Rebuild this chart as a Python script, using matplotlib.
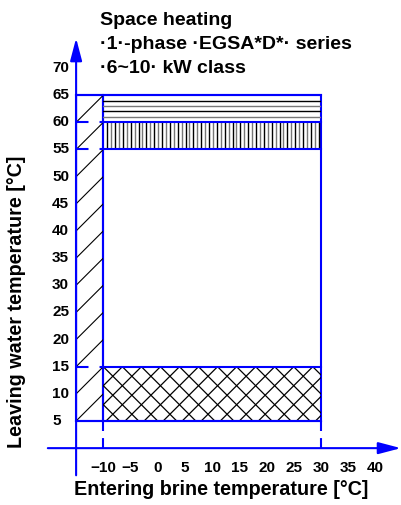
import numpy as np
import matplotlib
matplotlib.use('Agg')
import matplotlib.pyplot as plt
from matplotlib.patches import Rectangle

# operating range (entering brine / leaving water), degC
brine_min, brine_max = -10, 30
water_min, water_max = 5, 65
backup_min = -15            # left strip, backup heater only
zone_top = (60, 65)         # horizontal hatch
zone_mid = (55, 60)         # vertical hatch
zone_low = (5, 15)          # cross hatch

x_ticks = [-10, -5, 0, 5, 10, 15, 20, 25, 30, 35, 40]
y_ticks = [5, 10, 15, 20, 25, 30, 35, 40, 45, 50, 55, 60, 65, 70]

title_lines = ['Space heating', '\u00b71\u00b7-phase \u00b7EGSA*D*\u00b7 series', '\u00b76~10\u00b7 kW class']
xlabel = 'Entering brine temperature [\u00b0C]'
ylabel = 'Leaving water temperature [\u00b0C]'

W, H = 401, 505
fig = plt.figure(figsize=(W / 100, H / 100), dpi=100)
ax = fig.add_axes([0, 0, 1, 1])
ax.set_xlim(-28.99, 44.72)
ax.set_ylim(-10.47, 82.53)
ax.axis('off')

blue = '#0000ff'
lw = 1.5
font = ['Liberation Sans', 'DejaVu Sans']


def clipped(xs, ys, clip, **kw):
    ln, = ax.plot(xs, ys, **kw)
    ln.set_clip_path(clip)


def box(x0, x1, y0, y1):
    r = Rectangle((x0, y0), x1 - x0, y1 - y0, fill=False, lw=0, edgecolor='none')
    ax.add_patch(r)
    return r


# horizontal hatch 60-65
r = box(brine_min, brine_max, *zone_top)
for i, y in enumerate(np.arange(zone_top[0] + 1, zone_top[1], 1.0)):
    clipped([brine_min, brine_max], [y, y], r, color='black' if i % 2 else '#777777', lw=1.0)

# vertical hatch 55-60
r = box(brine_min, brine_max, *zone_mid)
for i, x in enumerate(np.arange(brine_min + 0.72, brine_max, 0.72)):
    clipped([x, x], list(zone_mid), r, color='black' if i % 2 == 0 else '#777777', lw=1.0)

# cross hatch 5-15
r = box(brine_min, brine_max, *zone_low)
for c in np.arange(-60, 60, 3.5):
    clipped([brine_min - 20, brine_max + 20], [brine_min - 20 + 15 + c, brine_max + 20 + 15 + c], r,
            color='black', lw=0.9)
    clipped([brine_min - 20, brine_max + 20], [-(brine_min - 20) - 5 + c, -(brine_max + 20) - 5 + c], r,
            color='black', lw=0.9)

# left strip with sparse diagonals
strip = Rectangle((backup_min, water_min), brine_min - backup_min, water_max - water_min,
                  fill=False, edgecolor=blue, lw=lw)
ax.add_patch(strip)
for c in np.arange(0, water_max + 5, 5):
    clipped([backup_min - 5, brine_min + 5], [c - 5, c + 10], strip, color='black', lw=0.8)

# main envelope
ax.add_patch(Rectangle((brine_min, water_min), brine_max - brine_min, water_max - water_min,
                       fill=False, edgecolor=blue, lw=lw))
for y in [zone_top[0], zone_mid[0], zone_low[1]]:
    ax.plot([brine_min, brine_max], [y, y], color=blue, lw=lw)
    ax.plot([backup_min, brine_min], [y, y], color=blue, lw=lw, linestyle=(0, (6, 5.3)))
ax.plot([backup_min, brine_max], [water_max, water_max], color=blue, lw=lw)
ax.plot([backup_min, brine_max], [water_min, water_min], color=blue, lw=lw)
for x in [brine_min, brine_max]:
    ax.plot([x, x], [water_min, 0], color=blue, lw=lw, linestyle=(0, (4.8, 3.4)))

# axes arrows
arrow = dict(arrowstyle='-|>,head_length=13.7,head_width=3.6', color=blue, lw=lw,
             mutation_scale=1, shrinkA=0, shrinkB=0)
ax.annotate('', xy=(44.7, 0), xytext=(-20.2, 0), arrowprops=arrow)
ax.annotate('', xy=(backup_min, 75.5), xytext=(backup_min, -5), arrowprops=arrow)

# tick labels
for v in x_ticks:
    lab = str(v).replace('-', '\u2212')
    ax.text(v, -3.66, lab, ha='center', va='center', fontsize=11, fontweight='bold', family=font)
for v in y_ticks:
    ax.text(-19.4, v, str(v), ha='left', va='center', fontsize=11, fontweight='bold', family=font)

# titles and axis labels
for i, t in enumerate(title_lines):
    fig.text(100 / W, 1 - (25 + 24 * i) / H, t, ha='left', va='baseline',
             fontsize=14, fontweight='bold', family=font)
fig.text(221.5 / W, 1 - 495 / H, xlabel, ha='center', va='baseline',
         fontsize=14.2, fontweight='bold', family=font)
fig.text(17 / W, 1 - 302 / H, ylabel, ha='center', va='center', rotation=90,
         fontsize=14.2, fontweight='bold', family=font)

fig.savefig('out.png', dpi=100)
